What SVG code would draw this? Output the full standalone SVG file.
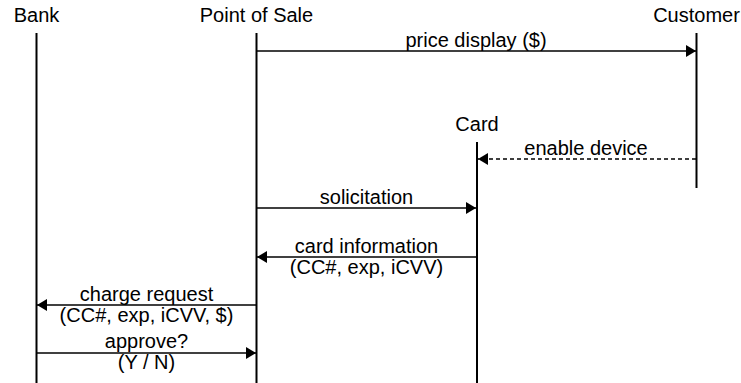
<svg xmlns="http://www.w3.org/2000/svg" width="741" height="383" viewBox="0 0 741 383">
  <style>
    text { font-family: "Liberation Sans", Arial, sans-serif; font-size: 20px; fill: #000; text-anchor: middle; }
    .life { stroke: #000; stroke-width: 2; fill: none; }
    .msg { stroke: #000; stroke-width: 1.5; fill: none; marker-end: url(#head); }
    .dash { stroke-dasharray: 4 3; }
  </style>
  <defs>
    <marker id="head" viewBox="0 0 10 12" refX="10" refY="6" markerWidth="10" markerHeight="12" markerUnits="userSpaceOnUse" orient="auto">
      <path d="M0,0 L10,6 L0,12 Z" fill="#000"/>
    </marker>
  </defs>

  <rect width="741" height="383" fill="#fff"/>

  <!-- participants with their lifelines -->
  <g id="bank">
    <text x="36.5" y="22">Bank</text>
    <line class="life" x1="36.5" y1="33" x2="36.5" y2="383"/>
  </g>
  <g id="pos">
    <text x="256.5" y="22">Point of Sale</text>
    <line class="life" x1="256.5" y1="33" x2="256.5" y2="383"/>
  </g>
  <g id="customer">
    <text x="696.5" y="22">Customer</text>
    <line class="life" x1="696.5" y1="33" x2="696.5" y2="188"/>
  </g>
  <g id="card">
    <text x="477" y="131">Card</text>
    <line class="life" x1="477" y1="142" x2="477" y2="383"/>
  </g>

  <!-- messages -->
  <g id="messages">
    <line class="msg" x1="257" y1="51" x2="696" y2="51"/>
    <text x="476" y="47">price display ($)</text>

    <line class="msg dash" x1="696" y1="159" x2="478" y2="159"/>
    <text x="586" y="155">enable device</text>

    <line class="msg" x1="257" y1="208" x2="476" y2="208"/>
    <text x="366.5" y="204">solicitation</text>

    <line class="msg" x1="476" y1="257" x2="257" y2="257"/>
    <text x="366.5" y="253">card information</text>
    <text x="366.5" y="274">(CC#, exp, iCVV)</text>

    <line class="msg" x1="256" y1="305" x2="37" y2="305"/>
    <text x="146.5" y="301">charge request</text>
    <text x="146.5" y="322">(CC#, exp, iCVV, $)</text>

    <line class="msg" x1="37" y1="353" x2="256" y2="353"/>
    <text x="146.5" y="348">approve?</text>
    <text x="146.5" y="369">(Y / N)</text>
  </g>
</svg>
